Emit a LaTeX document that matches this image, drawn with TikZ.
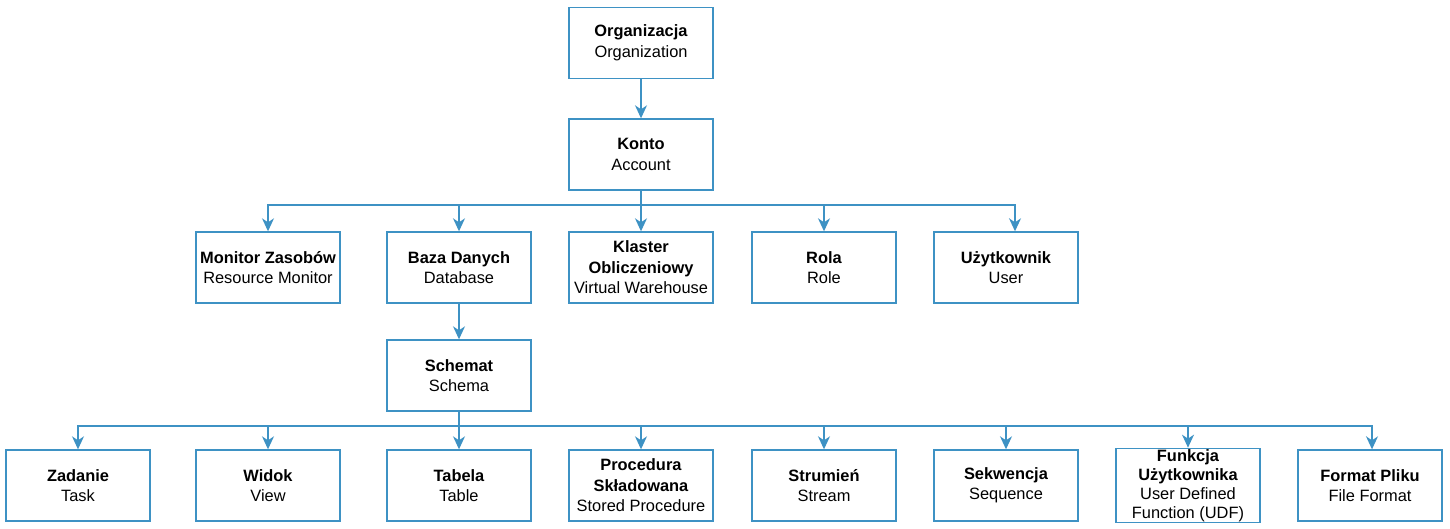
\documentclass[tikz,border=0pt]{standalone}
\usepackage{fontspec}
\setmainfont{Liberation Sans}
\usetikzlibrary{arrows.meta}
\definecolor{edge}{RGB}{62,146,196}
\tikzset{
  box/.style={draw=edge, line width=1.4pt, fill=white, minimum width=144pt, minimum height=71pt,
    align=center, inner sep=1pt, font=\fontsize{16.4}{20.5}\selectfont},
  arr/.style={draw=edge, line width=1.4pt, -{Stealth[length=13pt,width=12pt,inset=4pt]}},
}
\begin{document}
\begin{tikzpicture}[x=1pt,y=-1pt]
\useasboundingbox (0,0) rectangle (1450,529);
\node[box] (org) at (641,43) {\textbf{Organizacja}\\Organization};
\node[box] (konto) at (641,154.5) {\textbf{Konto}\\Account};
\node[box] (mon) at (268,267.5) {\textbf{Monitor Zasobów}\\Resource Monitor};
\node[box] (baza) at (459,267.5) {\textbf{Baza Danych}\\Database};
\node[box] (klaster) at (641,267.5) {\textbf{Klaster}\\\textbf{Obliczeniowy}\\Virtual Warehouse};
\node[box] (rola) at (824,267.5) {\textbf{Rola}\\Role};
\node[box] (user) at (1006,267.5) {\textbf{Użytkownik}\\User};
\node[box] (schemat) at (459,375.5) {\textbf{Schemat}\\Schema};
\node[box] (zad) at (78,485.5) {\textbf{Zadanie}\\Task};
\node[box] (widok) at (268,485.5) {\textbf{Widok}\\View};
\node[box] (tab) at (459,485.5) {\textbf{Tabela}\\Table};
\node[box] (proc) at (641,485.5) {\textbf{Procedura}\\\textbf{Składowana}\\Stored Procedure};
\node[box] (str) at (824,485.5) {\textbf{Strumień}\\Stream};
\node[box] (sek) at (1006,485.5) {\textbf{Sekwencja}\\Sequence};
\node[box, font=\fontsize{16.4}{19}\selectfont] (fun) at (1188,485.5) {\textbf{Funkcja}\\\textbf{Użytkownika}\\User Defined\\Function (UDF)};
\node[box] (fmt) at (1370,485.5) {\textbf{Format Pliku}\\File Format};
\coordinate (busA) at (641,205);
\coordinate (busB) at (459,426);
\coordinate (userin) at ([xshift=9pt]user.north);
\coordinate (fmtin) at ([xshift=2pt]fmt.north);
\draw[arr] (org) -- (konto);
\foreach \t in {mon,baza,klaster,rola,userin}
  \draw[arr] (konto.south) -- (busA) -| (\t.north);
\draw[arr] (baza) -- (schemat);
\foreach \t in {zad,widok,tab,proc,str,sek,fun,fmtin}
  \draw[arr] (schemat.south) -- (busB) -| (\t.north);
\end{tikzpicture}
\end{document}
